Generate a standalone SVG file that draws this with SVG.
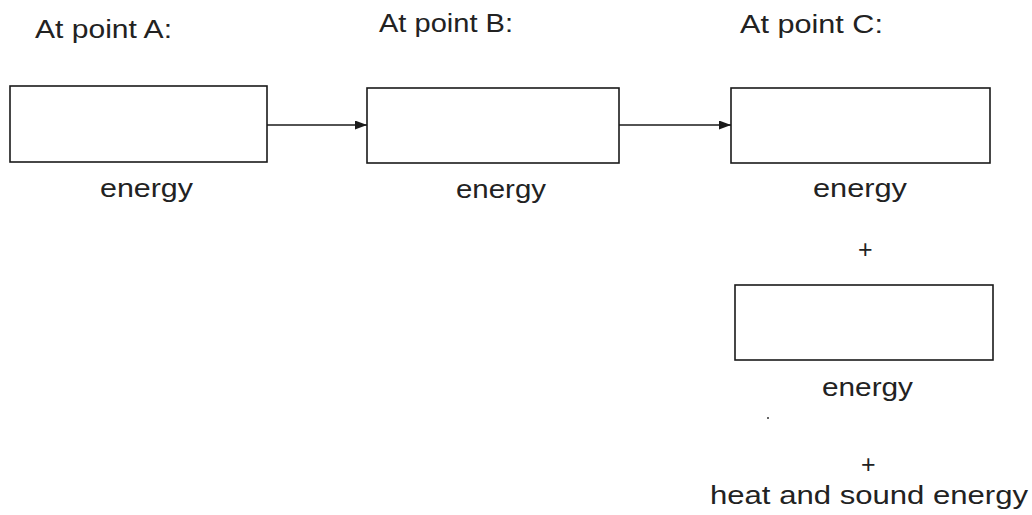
<svg xmlns="http://www.w3.org/2000/svg" width="1032" height="515" viewBox="0 0 1032 515">
<style>
  .box { fill: #ffffff; stroke: #1a1a1a; stroke-width: 1.6; }
  .lbl { font-family: "Liberation Sans", Arial, sans-serif; font-size: 25px; fill: #222222; }
  .edge { stroke: #1a1a1a; stroke-width: 1.6; fill: none; }
</style>
<defs>
  <marker id="arr" viewBox="0 0 12 9" refX="12" refY="4.5" markerWidth="12" markerHeight="9" markerUnits="userSpaceOnUse" orient="auto">
    <path d="M0,0 L12,4.5 L0,9 Z" fill="#1a1a1a"/>
  </marker>
</defs>
<rect width="1032" height="515" fill="#ffffff"/>

<text class="lbl" x="35" y="38" textLength="137" lengthAdjust="spacingAndGlyphs">At point A:</text>
<text class="lbl" x="379" y="32" textLength="134" lengthAdjust="spacingAndGlyphs">At point B:</text>
<text class="lbl" x="740" y="33" textLength="143" lengthAdjust="spacingAndGlyphs">At point C:</text>

<g id="nodeA">
  <rect class="box" x="10" y="86" width="257" height="76"/>
  <text class="lbl" x="100" y="197" textLength="93" lengthAdjust="spacingAndGlyphs">energy</text>
</g>
<g id="nodeB">
  <rect class="box" x="367" y="88" width="252" height="75"/>
  <text class="lbl" x="456" y="198" textLength="90" lengthAdjust="spacingAndGlyphs">energy</text>
</g>
<g id="nodeC">
  <rect class="box" x="731" y="88" width="259" height="75"/>
  <text class="lbl" x="813" y="197" textLength="94" lengthAdjust="spacingAndGlyphs">energy</text>
  <text class="lbl" x="858" y="258">+</text>
</g>
<g id="nodeD">
  <rect class="box" x="735" y="285" width="258" height="75"/>
  <text class="lbl" x="822" y="396" textLength="91" lengthAdjust="spacingAndGlyphs">energy</text>
  <circle cx="768" cy="418" r="1" fill="#333"/>
  <text class="lbl" x="861" y="473">+</text>
  <text class="lbl" x="710" y="504" textLength="318" lengthAdjust="spacingAndGlyphs">heat and sound energy</text>
</g>

<g id="connectors">
  <line class="edge" x1="267" y1="125" x2="367" y2="125" marker-end="url(#arr)"/>
  <line class="edge" x1="619" y1="125" x2="731" y2="125" marker-end="url(#arr)"/>
</g>
</svg>
